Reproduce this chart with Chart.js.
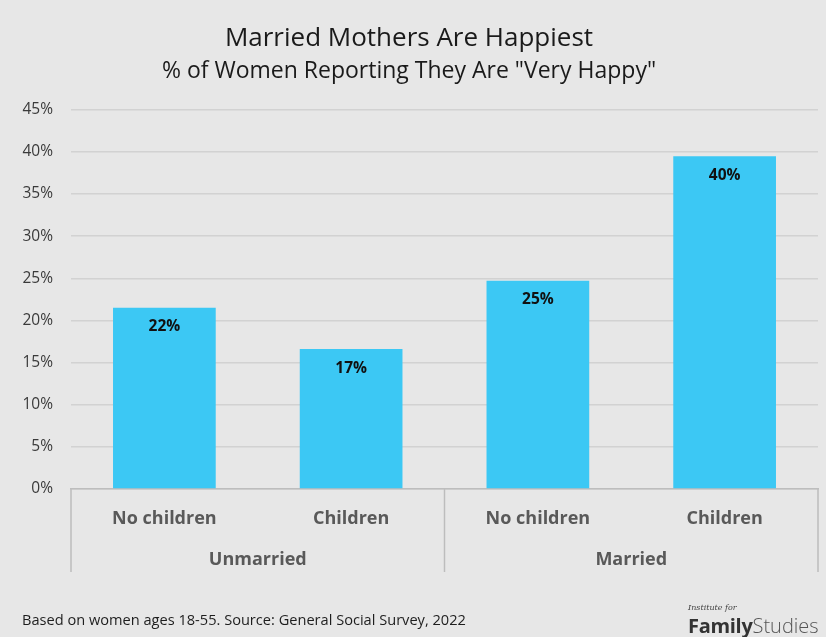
<!DOCTYPE html>
<html>
<head>
<meta charset="utf-8">
<script src="https://cdn.jsdelivr.net/npm/chart.js@4/dist/chart.umd.min.js"></script>
<style>
  html, body { margin: 0; padding: 0; background: #e7e7e7; }
  #wrap { position: relative; width: 826px; height: 637px; background: #e7e7e7; overflow: hidden; }
  canvas { position: absolute; left: 0; top: 0; }
  #footer { position: absolute; left: 22px; top: 609px; font: 14.6px 'Open Sans', sans-serif; color: #1e1e1e; white-space: nowrap; }
  #logo { position: absolute; left: 688px; top: 603px; white-space: nowrap; color: #333; }
  #logo .inst { font: italic 8px 'DejaVu Serif', serif; color: #444; display: block; line-height: 9px; }
  #logo .fam { font: 700 20px 'Open Sans', sans-serif; color: #333; letter-spacing: -0.3px; }
  #logo .stu { font: 300 20px 'Open Sans', sans-serif; color: #555; }
</style>
</head>
<body>
<div id="wrap">
  <canvas id="c" width="826" height="637"></canvas>
  <div id="footer">Based on women ages 18-55. Source: General Social Survey, 2022</div>
  <div id="logo"><span class="inst">Institute for</span><span class="fam">Family</span><span class="stu">Studies</span></div>
</div>
<script>
const categories = ['No children', 'Children', 'No children', 'Children'];
const groups = ['Unmarried', 'Married'];
const values = [21.5, 16.6, 24.7, 39.5];
const valueLabels = ['22%', '17%', '25%', '40%'];
const yTicks = [0, 5, 10, 15, 20, 25, 30, 35, 40, 45];

const valueLabelPlugin = {
  id: 'valueLabels',
  afterDatasetsDraw(chart) {
    const ctx = chart.ctx;
    const meta = chart.getDatasetMeta(0);
    ctx.save();
    ctx.font = "bold 15.5px 'Open Sans', sans-serif";
    ctx.fillStyle = '#111';
    ctx.textAlign = 'center';
    ctx.textBaseline = 'middle';
    meta.data.forEach((bar, i) => {
      ctx.fillText(valueLabels[i], bar.x, bar.y + 19);
    });
    ctx.restore();
  }
};

const separatorPlugin = {
  id: 'separators',
  afterDraw(chart) {
    const ctx = chart.ctx;
    const area = chart.chartArea;
    const xs = chart.scales.x;
    const mid = (xs.getPixelForValue(1) + xs.getPixelForValue(2)) / 2;
    const bottom = area.bottom + 83;
    ctx.save();
    ctx.strokeStyle = '#bdbdbd';
    ctx.lineWidth = 1.5;
    [area.left, mid, area.right].forEach(x => {
      ctx.beginPath();
      ctx.moveTo(x, area.bottom);
      ctx.lineTo(x, bottom);
      ctx.stroke();
    });
    ctx.restore();
  }
};

new Chart(document.getElementById('c'), {
  type: 'bar',
  data: {
    labels: categories,
    datasets: [{
      data: values,
      backgroundColor: '#3cc8f4',
      borderWidth: 0,
      categoryPercentage: 1.0,
      barPercentage: 0.55
    }]
  },
  options: {
    responsive: false,
    animation: false,
    devicePixelRatio: 1,
    layout: { padding: { left: 0, right: 8, top: 0, bottom: 0 } },
    plugins: {
      legend: { display: false },
      tooltip: { enabled: false },
      title: {
        display: true,
        text: 'Married Mothers Are Happiest',
        color: '#1a1a1a',
        font: { family: "'Open Sans', sans-serif", size: 26, weight: 'normal', lineHeight: 1.2 },
        padding: { top: 23, bottom: 0 }
      },
      subtitle: {
        display: true,
        text: '% of Women Reporting They Are "Very Happy"',
        color: '#1a1a1a',
        font: { family: "'Open Sans', sans-serif", size: 23, weight: 'normal', lineHeight: 1.2 },
        padding: { top: 3, bottom: 25 }
      }
    },
    scales: {
      y: {
        min: 0,
        max: 45,
        afterBuildTicks(scale) { scale.ticks = yTicks.map(v => ({ value: v })); },
        afterFit(scale) { scale.width = 71; },
        ticks: {
          callback: v => v + '%',
          color: '#3a3a3a',
          font: { family: "'Open Sans', sans-serif", size: 15.5 },
          padding: 18
        },
        grid: { color: '#d2d2d2', lineWidth: 1.5, drawTicks: false },
        border: { display: false }
      },
      x: {
        position: 'bottom',
        afterFit(scale) { scale.height = 52; },
        ticks: {
          color: '#595959',
          font: { family: "'Open Sans', sans-serif", size: 18, weight: 'bold' },
          padding: 19,
          maxRotation: 0
        },
        grid: { display: false, drawTicks: false },
        border: { display: true, color: '#bdbdbd', width: 1.5 }
      },
      x2: {
        type: 'category',
        labels: groups,
        position: 'bottom',
        offset: true,
        afterFit(scale) { scale.height = 96; },
        ticks: {
          color: '#595959',
          font: { family: "'Open Sans', sans-serif", size: 18, weight: 'bold' },
          padding: 8,
          maxRotation: 0
        },
        grid: { display: false, drawTicks: false },
        border: { display: false }
      }
    }
  },
  plugins: [valueLabelPlugin, separatorPlugin]
});
</script>
</body>
</html>
